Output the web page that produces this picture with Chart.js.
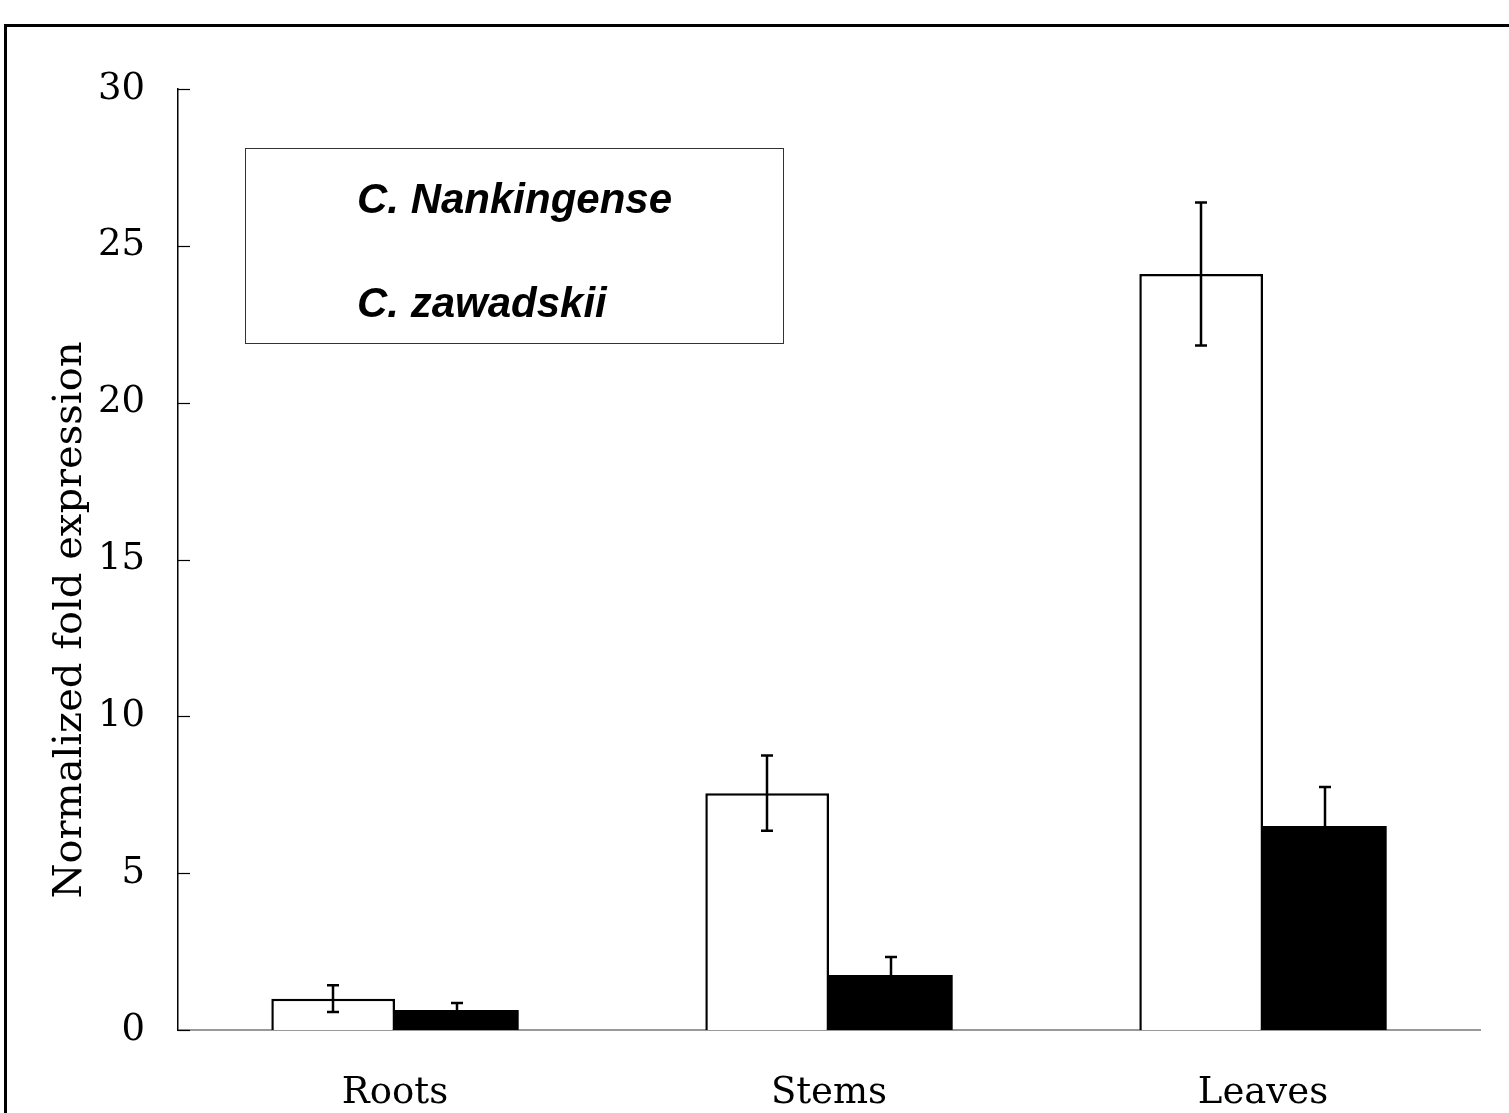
<!DOCTYPE html>
<html>
<head>
<meta charset="utf-8">
<script src="https://cdn.jsdelivr.net/npm/chart.js@4.4.0/dist/chart.umd.min.js"></script>
<style>
  html, body { margin: 0; padding: 0; background: #fff; }
  #wrap { width: 1509px; height: 1113px; position: relative; }
</style>
</head>
<body>
<div id="wrap"><canvas id="chart" width="1509" height="1113"></canvas></div>
<script>
// --- DATA ---
const categories = ['Roots', 'Stems', 'Leaves'];
const seriesNames = ['C. Nankingense', 'C. zawadskii'];
const nankingense = [1.0, 7.55, 24.1];
const nankingenseErr = [0.43, 1.2, 2.28];
const zawadskii = [0.64, 1.75, 6.5];
const zawadskiiErr = [0.22, 0.58, 1.25];
const yTicks = [0, 5, 10, 15, 20, 25, 30];
const yTitle = 'Normalized fold expression';

const errors = [nankingenseErr, zawadskiiErr];

// outer frame, legend box, axis title
const decorPlugin = {
    id: 'decor',
    beforeDraw(chart) {
        const ctx = chart.ctx;
        ctx.save();
        ctx.fillStyle = '#fff';
        ctx.fillRect(0, 0, chart.width, chart.height);
        ctx.strokeStyle = '#000';
        ctx.lineWidth = 3;
        ctx.strokeRect(5.5, 25.5, 1700, 1300);
        ctx.restore();
    },
    afterDraw(chart) {
        const ctx = chart.ctx;
        const y = chart.scales.y;
        ctx.save();
        // inward tick marks on y axis
        ctx.strokeStyle = '#000';
        ctx.lineWidth = 1.2;
        yTicks.forEach(v => {
            const py = Math.round(y.getPixelForValue(v)) + 0.5;
            ctx.beginPath();
            ctx.moveTo(y.right, py);
            ctx.lineTo(y.right + 12, py);
            ctx.stroke();
        });

        // y title
        ctx.translate(71, 620);
        ctx.rotate(-Math.PI / 2);
        ctx.fillStyle = '#000';
        ctx.font = '40px "DejaVu Serif"';
        ctx.textAlign = 'center';
        ctx.textBaseline = 'middle';
        ctx.fillText(yTitle, 0, 0);
        ctx.restore();

        // legend (text only, framed)
        ctx.save();
        ctx.strokeStyle = '#333';
        ctx.lineWidth = 1;
        ctx.strokeRect(245.5, 148.5, 538, 195);
        ctx.fillStyle = '#000';
        ctx.font = 'italic bold 42px "Liberation Sans"';
        ctx.textBaseline = 'alphabetic';
        chart.data.datasets.forEach((ds, i) => {
            ctx.fillText(ds.label, 357, 213 + i * 104);
        });
        ctx.restore();
    }
};

// error bars
const errorBarPlugin = {
    id: 'errorBars',
    afterDatasetsDraw(chart) {
        const ctx = chart.ctx;
        const y = chart.scales.y;
        ctx.save();
        ctx.strokeStyle = '#000';
        ctx.lineWidth = 2.5;
        chart.data.datasets.forEach((ds, i) => {
            const meta = chart.getDatasetMeta(i);
            meta.data.forEach((bar, j) => {
                const v = ds.data[j];
                const e = errors[i][j];
                const x = Math.round(bar.x);
                const top = y.getPixelForValue(v + e);
                const bot = y.getPixelForValue(v - e);
                ctx.beginPath();
                ctx.moveTo(x, top); ctx.lineTo(x, bot);
                ctx.moveTo(x - 6, top); ctx.lineTo(x + 6, top);
                ctx.moveTo(x - 6, bot); ctx.lineTo(x + 6, bot);
                ctx.stroke();
            });
        });
        ctx.restore();
    }
};

new Chart(document.getElementById('chart').getContext('2d'), {
    type: 'bar',
    data: {
        labels: categories,
        datasets: [
            {
                label: seriesNames[0],
                data: nankingense,
                backgroundColor: '#fff',
                borderColor: '#000',
                borderWidth: 2.5
            },
            {
                label: seriesNames[1],
                data: zawadskii,
                backgroundColor: '#000',
                borderColor: '#000',
                borderWidth: 0
            }
        ]
    },
    options: {
        responsive: false,
        animation: false,
        categoryPercentage: 0.57,
        barPercentage: 1.0,
        layout: { padding: { left: 0, right: 29, top: 89, bottom: 0 } },
        plugins: {
            legend: { display: false },
            tooltip: { enabled: false }
        },
        scales: {
            x: {
                grid: { display: false, drawTicks: false },
                border: { display: true, color: '#999', width: 2 },
                ticks: {
                    color: '#000',
                    padding: 41,
                    font: { family: 'DejaVu Serif', size: 37 }
                },
                afterFit(scale) { scale.height = 83; }
            },
            y: {
                min: 0,
                max: 30,
                afterBuildTicks(scale) { scale.ticks = yTicks.map(v => ({ value: v })); },
                grid: { display: false, drawTicks: false },
                border: { display: true, color: '#000', width: 1.5 },
                ticks: {
                    color: '#000',
                    padding: 33,
                    font: { family: 'DejaVu Serif', size: 37 }
                },
                afterFit(scale) { scale.width = 178; }
            }
        }
    },
    plugins: [decorPlugin, errorBarPlugin]
});
</script>
</body>
</html>
